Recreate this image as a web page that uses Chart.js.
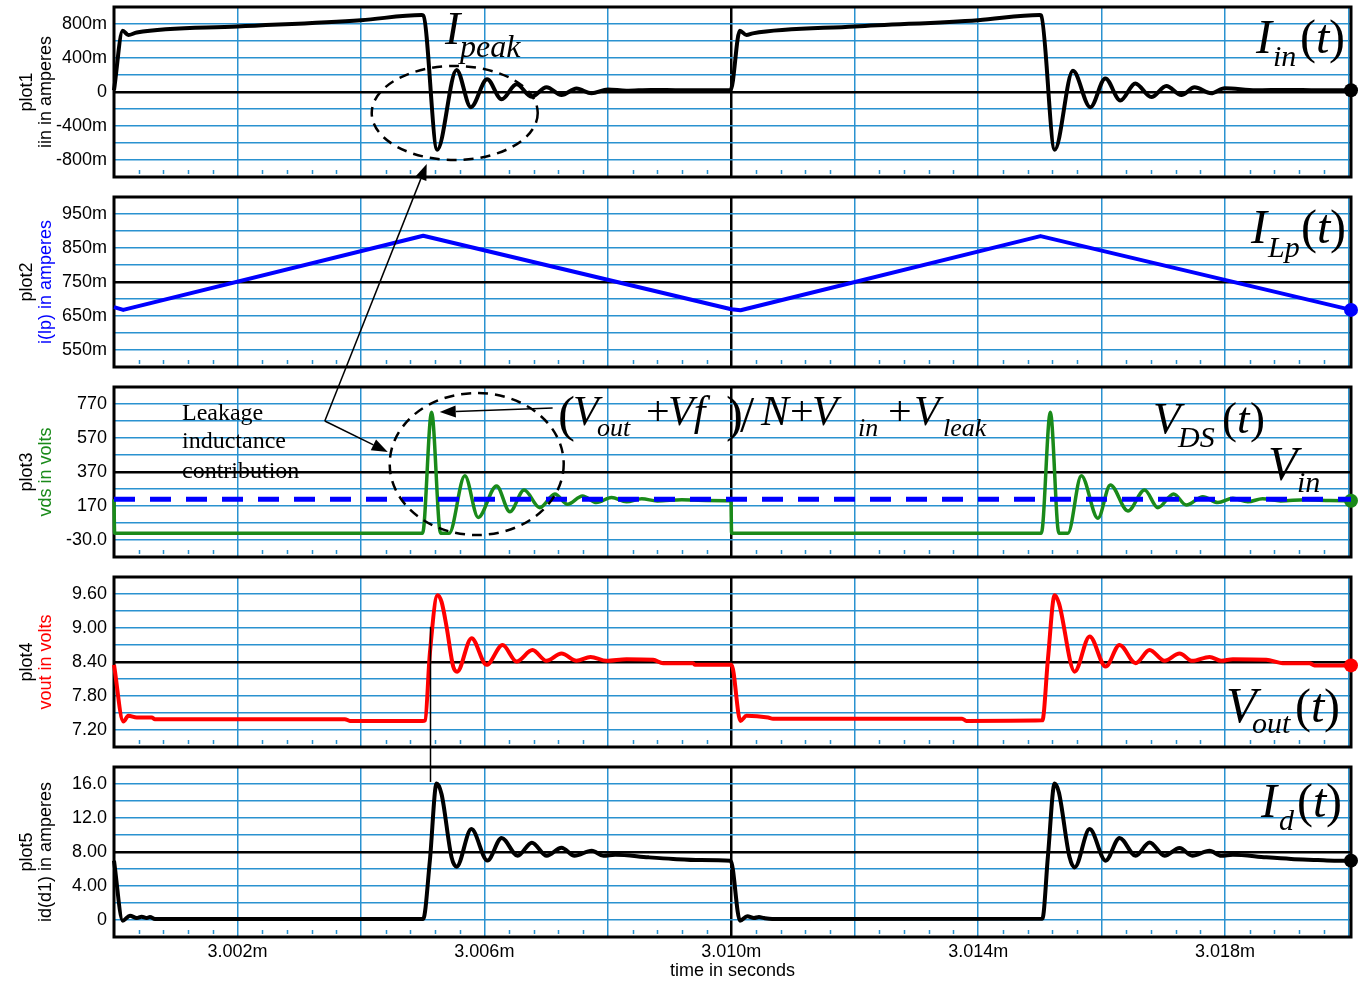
<!DOCTYPE html>
<html>
<head>
<meta charset="utf-8">
<title>Flyback switching waveforms</title>
<script src="https://cdn.jsdelivr.net/npm/chart.js"></script>
<style>
  html, body { margin: 0; padding: 0; background: #fff; }
  body { width: 1358px; height: 982px; position: relative; overflow: hidden; }
  .panel { position: absolute; left: 0; width: 1358px; }
  .panel canvas { display: block; }
  #overlay { position: absolute; left: 0; top: 0; pointer-events: none; }
</style>
</head>
<body>
<canvas id="overlay" width="1358" height="982"></canvas>
<script>
// ---- time axis (µs after 3.000 ms) ----
const timeSpan = 20.04;
const timeTickLabels = ['3.002m', '3.006m', '3.010m', '3.014m', '3.018m'];

// ---- plot1: input current iin (A) ----
const iinTime = [0.000, 0.141, 0.232, 0.368, 2.000, 4.000, 4.983, 5.010, 5.236, 5.550, 5.781, 6.045, 6.279, 6.521,
  6.764, 7.007, 7.250, 7.493, 7.736, 8.000, 8.300, 8.700, 9.200, 9.990,
  10.138, 10.246, 10.348, 12.000, 14.000, 14.996, 15.020, 15.240, 15.535, 15.817, 16.060, 16.303, 16.546,
  16.805, 17.048, 17.291, 17.506, 17.776, 17.992, 18.500, 19.000, 19.500, 20.040];
const iinAmps = [0.02, 0.72, 0.67, 0.70, 0.77, 0.845, 0.905, 0.90, -0.68, 0.26, -0.18, 0.15, -0.086, 0.09,
  -0.055, 0.055, -0.035, 0.04, -0.015, 0.03, 0.015, 0.025, 0.02, 0.025,
  0.72, 0.67, 0.69, 0.77, 0.845, 0.906, 0.90, -0.68, 0.25, -0.18, 0.16, -0.10, 0.10,
  -0.06, 0.07, -0.035, 0.055, -0.015, 0.045, 0.02, 0.025, 0.02, 0.02];

// ---- plot2: primary inductor current i(lp) (A) ----
const ilpTime = [0.000, 0.150, 5.010, 10.000, 10.150, 15.010, 20.040];
const ilpAmps = [0.676, 0.668, 0.886, 0.670, 0.667, 0.885, 0.668];

// ---- plot3: drain-source voltage vds (V) and input voltage level (V) ----
const vdsTime = [0.000, 0.010, 4.999, 5.145, 5.291, 5.430, 5.684, 5.900, 6.198, 6.413, 6.644, 6.899, 7.142,
  7.347, 7.590, 7.817, 8.060, 8.303, 8.550, 8.800, 9.200, 9.600, 9.995, 10.005,
  15.023, 15.169, 15.308, 15.454, 15.671, 15.940, 16.141, 16.426, 16.696, 16.912, 17.166, 17.372, 17.640,
  17.883, 18.126, 18.369, 18.607, 18.900, 19.300, 19.700, 20.040];
const vdsVolts = [210, 10, 10, 721, 10, 10, 348, 103, 288, 136, 264, 160, 241,
  180, 229, 190, 220, 195, 212, 200, 207, 203, 201, 10,
  10, 721, 10, 10, 348, 98, 294, 141, 264, 160, 241, 176, 225,
  190, 215, 195, 213, 200, 207, 202, 201];
const vinTime = [0.000, 20.040];
const vinVolts = [210, 210];

// ---- plot4: output voltage vout (V) ----
const voutTime = [0.000, 0.151, 0.232, 0.368, 0.611, 0.664, 3.741, 3.822, 5.000, 5.040, 5.117, 5.242, 5.307,
  5.388, 5.495, 5.559, 5.793, 6.036, 6.295, 6.521, 6.780, 7.007, 7.250, 7.493, 7.720, 7.979, 8.303, 8.734,
  8.895, 9.381, 9.409, 10.003, 10.149, 10.246, 10.596, 10.677, 13.740, 13.810, 15.040, 15.130, 15.239,
  15.308, 15.563, 15.806, 16.065, 16.291, 16.551, 16.777, 17.020, 17.263, 17.469, 17.749, 17.938, 18.126,
  18.667, 18.935, 19.368, 19.449, 20.040];
const voutVolts = [8.35, 7.35, 7.45, 7.42, 7.42, 7.39, 7.39, 7.36, 7.36, 7.37, 8.55, 9.58, 9.46,
  9.02, 8.32, 8.23, 8.82, 8.35, 8.70, 8.41, 8.61, 8.42, 8.55, 8.42, 8.49, 8.42, 8.45, 8.44,
  8.38, 8.38, 8.35, 8.35, 7.36, 7.45, 7.42, 7.40, 7.40, 7.36, 7.37, 8.45, 9.58,
  9.44, 8.23, 8.85, 8.32, 8.70, 8.38, 8.61, 8.42, 8.55, 8.42, 8.49, 8.42, 8.45,
  8.44, 8.38, 8.38, 8.34, 8.34];

// ---- plot5: diode current id(d1) (A) ----
const idTime = [0.000, 0.141, 0.259, 0.368, 0.449, 0.530, 0.583, 0.664, 5.009, 5.117, 5.226, 5.307, 5.469,
  5.550, 5.790, 6.050, 6.280, 6.540, 6.770, 7.010, 7.250, 7.460, 7.740, 7.930, 8.120, 8.660, 9.060, 9.500,
  9.990, 10.141, 10.259, 10.368, 10.449, 10.530, 10.664, 15.040, 15.130, 15.239, 15.308, 15.480, 15.563,
  15.806, 16.065, 16.291, 16.551, 16.777, 17.020, 17.263, 17.469, 17.749, 17.938, 18.126, 18.667, 19.070,
  19.500, 19.770, 20.040];
const idAmps = [6.98, -0.08, 0.50, 0.23, 0.39, 0.23, 0.35, 0.12, 0.12, 6.98, 16.07, 14.8, 7.37,
  6.27, 10.7, 7.0, 9.65, 7.56, 9.1, 7.56, 8.5, 7.56, 8.15, 7.56, 7.68, 7.37, 7.18, 7.06,
  6.98, -0.08, 0.45, 0.23, 0.35, 0.23, 0.12, 0.15, 7.5, 16.07, 15.0, 7.4, 6.19,
  10.7, 6.98, 9.65, 7.56, 9.13, 7.56, 8.47, 7.56, 8.15, 7.56, 7.68, 7.37, 7.18,
  7.06, 6.98, 6.98];

// ---- y tick labels (ascending) ----
const iinTicks = ['-800m', '-400m', '0', '400m', '800m'];
const ilpTicks = ['550m', '650m', '750m', '850m', '950m'];
const vdsTicks = ['-30.0', '170', '370', '570', '770'];
const voutTicks = ['7.20', '7.80', '8.40', '9.00', '9.60'];
const idTicks = ['0', '4.00', '8.00', '12.0', '16.0'];

// ---- look ----
const SANS = '"Liberation Sans", Arial, Helvetica, sans-serif';
const SERIF = '"Liberation Serif", "Times New Roman", serif';
const GRID_BLUE = '#2a92d0';
const GREEN = '#1a8a1a';

const panels = [
  { name: 'plot1', unit: 'iin in amperes', unitColor: '#000', min: -1, max: 1, labels: iinTicks,
    series: [{ t: iinTime, v: iinAmps, color: '#000', width: 4, marker: true }] },
  { name: 'plot2', unit: 'i(lp) in amperes', unitColor: '#0000ff', min: 0.5, max: 1.0, labels: ilpTicks,
    series: [{ t: ilpTime, v: ilpAmps, color: '#0000ff', width: 4, marker: true, straight: true }] },
  { name: 'plot3', unit: 'vds in volts', unitColor: GREEN, min: -130, max: 870, labels: vdsTicks,
    series: [
      { t: vinTime, v: vinVolts, color: '#0000ff', width: 5, dash: [21, 15], straight: true, order: 0 },
      { t: vdsTime, v: vdsVolts, color: GREEN, width: 3.5, marker: true, order: 1 }] },
  { name: 'plot4', unit: 'vout in volts', unitColor: '#ff0000', min: 6.9, max: 9.9, labels: voutTicks,
    series: [{ t: voutTime, v: voutVolts, color: '#ff0000', width: 4, marker: true }] },
  { name: 'plot5', unit: 'id(d1) in amperes', unitColor: '#000', min: -2, max: 18, labels: idTicks,
    series: [{ t: idTime, v: idAmps, color: '#000', width: 4, marker: true }] }
];

// frame, minor ticks and two-colour axis captions
const panelDecor = {
  id: 'panelDecor',
  beforeDatasetsDraw(chart) {
    const { ctx, chartArea: a, scales } = chart;
    ctx.save();
    ctx.strokeStyle = GRID_BLUE;
    ctx.lineWidth = 1.5;
    ctx.beginPath();
    for (let j = 1; j < 50; j++) {
      if (j % 5 === 0) continue;
      const x = Math.round(scales.x.getPixelForValue(j * 0.4)) + 0.5;
      ctx.moveTo(x, a.bottom - 7);
      ctx.lineTo(x, a.bottom - 3);
    }
    ctx.stroke();
    ctx.strokeStyle = '#000';
    ctx.lineWidth = 3;
    ctx.strokeRect(a.left, a.top, a.right - a.left, a.bottom - a.top);
    ctx.restore();
  },
  afterDraw(chart, args, opts) {
    const { ctx, chartArea: a } = chart;
    const cy = (a.top + a.bottom) / 2;
    ctx.save();
    ctx.font = '18px ' + SANS;
    ctx.textAlign = 'center';
    ctx.textBaseline = 'middle';
    [[opts.name, 27, '#000'], [opts.unit, 46, opts.unitColor]].forEach(([txt, x, col]) => {
      ctx.save();
      ctx.translate(x, cy);
      ctx.rotate(-Math.PI / 2);
      ctx.fillStyle = col;
      ctx.fillText(txt, 0, 0);
      ctx.restore();
    });
    ctx.restore();
  }
};

const charts = [];
panels.forEach((p, idx) => {
  const last = idx === panels.length - 1;
  const h = last ? 222 : 190;
  const host = document.createElement('div');
  host.className = 'panel';
  host.style.top = (idx * 190) + 'px';
  host.style.height = h + 'px';
  const cv = document.createElement('canvas');
  cv.width = 1358; cv.height = h;
  cv.style.width = '1358px'; cv.style.height = h + 'px';
  host.appendChild(cv);
  document.body.insertBefore(host, document.getElementById('overlay'));

  const datasets = p.series.map(s => ({
    data: s.t.map((t, i) => ({ x: t, y: s.v[i] })),
    borderColor: s.color,
    backgroundColor: s.color,
    borderWidth: s.width,
    borderDash: s.dash || [],
    borderCapStyle: 'butt',
    borderJoinStyle: 'round',
    cubicInterpolationMode: s.straight ? 'default' : 'monotone',
    tension: 0,
    pointRadius: s.marker ? (c => (c.dataIndex === s.t.length - 1 ? 7 : 0)) : 0,
    pointHoverRadius: 0,
    pointBorderWidth: 0,
    pointBackgroundColor: s.color,
    order: s.order || 0,
    clip: false
  }));

  const tickFont = { family: SANS, size: 18 };
  charts.push(new Chart(cv, {
    type: 'line',
    data: { datasets },
    plugins: [panelDecor],
    options: {
      responsive: false,
      animation: false,
      events: [],
      layout: { padding: { top: 7, bottom: last ? 0 : 13, left: 0, right: 6 } },
      plugins: {
        legend: { display: false },
        tooltip: { enabled: false },
        panelDecor: { name: p.name, unit: p.unit, unitColor: p.unitColor }
      },
      scales: {
        x: {
          type: 'linear', min: 0, max: timeSpan,
          afterBuildTicks: sc => { sc.ticks = Array.from({ length: 11 }, (_, k) => ({ value: 2 * k })); },
          afterFit: sc => { sc.height = last ? 45 : 0; sc.paddingLeft = 0; sc.paddingRight = 0; },
          ticks: {
            display: last, autoSkip: false, maxRotation: 0, padding: 4, color: '#000', font: tickFont,
            callback: (v, i) => (i % 2 === 1 ? timeTickLabels[(i - 1) / 2] : '')
          },
          grid: {
            drawTicks: false,
            color: c => (c.tick && c.tick.value === 10 ? '#000' : GRID_BLUE),
            lineWidth: c => (c.tick && c.tick.value === 10 ? 2.5 : 1.5)
          },
          border: { display: false },
          title: { display: last, text: 'time in seconds', color: '#000', font: tickFont, padding: 0 }
        },
        y: {
          type: 'linear', min: p.min, max: p.max,
          afterBuildTicks: sc => {
            sc.ticks = Array.from({ length: 11 }, (_, k) => ({ value: p.min + (p.max - p.min) * k / 10 }));
          },
          afterFit: sc => { sc.width = 114; sc.paddingTop = 0; sc.paddingBottom = 0; },
          ticks: {
            autoSkip: false, padding: 7, color: '#000', font: tickFont,
            callback: (v, i) => (i % 2 === 1 ? p.labels[(i - 1) / 2] : '')
          },
          grid: {
            drawTicks: false,
            color: c => (c.index === 5 ? '#000' : GRID_BLUE),
            lineWidth: c => (c.index === 5 ? 2.5 : 1.5)
          },
          border: { display: false }
        }
      }
    }
  }));
});

// ---- annotations drawn over the panels ----
// anchors are given in each panel's own data units: [panel, time µs, value]
const peakEllipse = { at: [0, 5.52, -0.247], rx: 83, ry: 47 };
const leakEllipse = { at: [2, 5.876, 417], rx: 87, ry: 71 };
const leakCallout = { from: [2, 3.415, 670], tips: [[0, 5.066, -0.847], [2, 4.435, 487.6]] };
const formulaArrow = { from: [2, 7.106, 746.5], tip: [2, 5.277, 723] };
const edgeMarker = { from: [3, 5.115, 9.02], to: [4, 5.115, 16.24] };

function pt([panel, t, v]) {
  const c = charts[panel];
  return { x: c.scales.x.getPixelForValue(t), y: panel * 190 + c.scales.y.getPixelForValue(v) };
}

const ov = document.getElementById('overlay').getContext('2d');

function ellipse(e) {
  const c = pt(e.at);
  ov.save();
  ov.setLineDash([10, 7]);
  ov.lineWidth = 2.5;
  ov.strokeStyle = '#000';
  ov.beginPath();
  ov.ellipse(c.x, c.y, e.rx, e.ry, 0, 0, Math.PI * 2);
  ov.stroke();
  ov.restore();
}

function arrow(a, b) {
  const ang = Math.atan2(b.y - a.y, b.x - a.x);
  const len = 16, half = 6;
  const bx = b.x - len * Math.cos(ang), by = b.y - len * Math.sin(ang);
  ov.beginPath();
  ov.moveTo(a.x, a.y);
  ov.lineTo(bx, by);
  ov.stroke();
  ov.beginPath();
  ov.moveTo(b.x, b.y);
  ov.lineTo(bx + half * Math.sin(ang), by - half * Math.cos(ang));
  ov.lineTo(bx - half * Math.sin(ang), by + half * Math.cos(ang));
  ov.closePath();
  ov.fill();
}

ellipse(peakEllipse);
ellipse(leakEllipse);

ov.save();
ov.strokeStyle = '#000';
ov.fillStyle = '#000';
ov.lineWidth = 1.5;
const co = pt(leakCallout.from);
leakCallout.tips.forEach(tp => arrow(co, pt(tp)));
arrow(pt(formulaArrow.from), pt(formulaArrow.tip));
const e0 = pt(edgeMarker.from), e1 = pt(edgeMarker.to);
ov.beginPath();
ov.moveTo(Math.round(e0.x) + 0.5, e0.y);
ov.lineTo(Math.round(e0.x) + 0.5, e1.y);
ov.stroke();
ov.restore();

// typeset labels: [text, x, baseline, size, italic]
const mathLabels = [
  ['I', 445, 44, 46, true], ['peak', 460, 57, 32, true],
  ['I', 1256, 53, 48, true], ['in', 1273, 66, 30, true], ['(', 1300, 53, 48, false], ['t', 1316, 53, 48, true], [')', 1329, 53, 48, false],
  ['I', 1251, 243, 48, true], ['Lp', 1268, 257, 30, true], ['(', 1301, 243, 48, false], ['t', 1317, 243, 48, true], [')', 1330, 243, 48, false],
  ['(', 558, 431, 51, false], ['V', 573, 425, 42, true], ['out', 597, 436, 26, true],
  ['+', 646, 425, 42, false], ['Vf', 668, 425, 42, true], [')', 726, 431, 51, false],
  ['/', 740, 431, 51, false], ['N', 761, 425, 42, true], ['+', 790, 425, 42, false],
  ['V', 812, 425, 42, true], ['in', 858, 436, 26, true], ['+', 888, 425, 42, false],
  ['V', 914, 425, 42, true], ['leak', 943, 436, 26, true],
  ['V', 1153, 433, 45, true], ['DS', 1178, 447, 30, true], ['(', 1222, 433, 45, false], ['t', 1237, 433, 45, true], [')', 1250, 433, 45, false],
  ['V', 1268, 480, 48, true], ['in', 1297, 492, 30, true],
  ['V', 1226, 722, 50, true], ['out', 1252, 733, 30, true], ['(', 1295, 722, 48, false], ['t', 1311, 722, 48, true], [')', 1324, 722, 48, false],
  ['I', 1261, 817, 48, true], ['d', 1279, 830, 30, true], ['(', 1297, 817, 48, false], ['t', 1313, 817, 48, true], [')', 1326, 817, 48, false]
];
ov.save();
ov.fillStyle = '#000';
ov.textBaseline = 'alphabetic';
ov.textAlign = 'left';
mathLabels.forEach(([txt, x, y, size, it]) => {
  ov.font = (it ? 'italic ' : '') + size + 'px ' + SERIF;
  ov.fillText(txt, x, y);
});
ov.font = '24px ' + SERIF;
[['Leakage', 420], ['inductance', 448], ['contribution', 478]].forEach(([txt, y]) => ov.fillText(txt, 182, y));
ov.restore();
</script>
</body>
</html>
